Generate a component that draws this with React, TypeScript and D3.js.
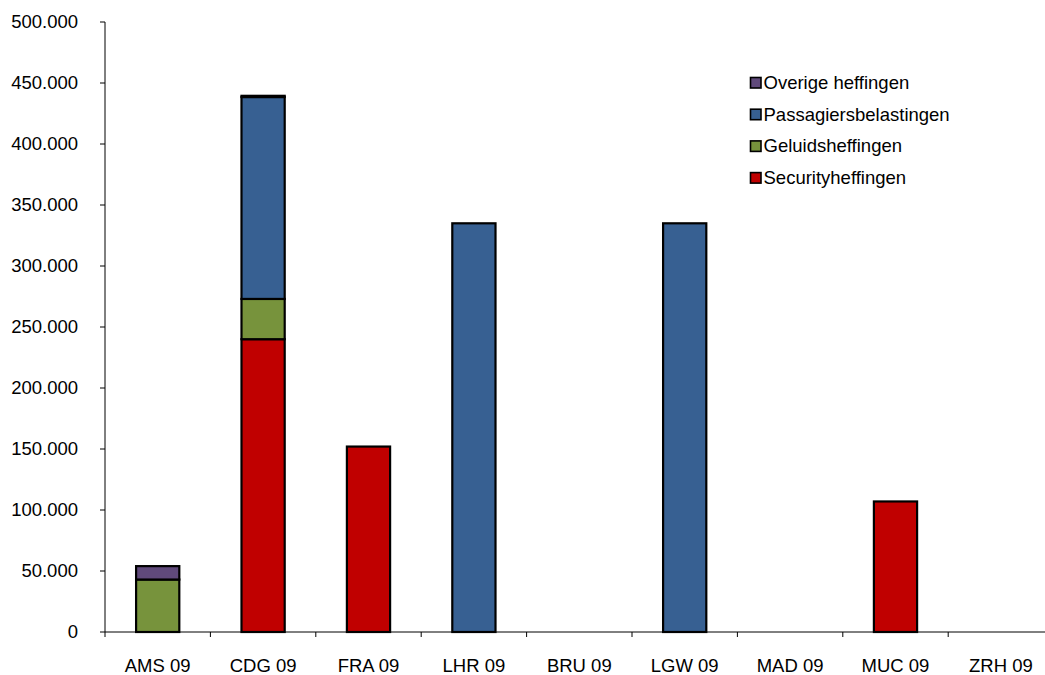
import React from "react";
import * as d3 from "d3";

const categories = ["AMS 09", "CDG 09", "FRA 09", "LHR 09", "BRU 09", "LGW 09", "MAD 09", "MUC 09", "ZRH 09"];
const security = [0, 240000, 152000, 0, 0, 0, 0, 107000, 0];
const geluid = [43000, 33000, 0, 0, 0, 0, 0, 0, 0];
const passagiers = [0, 165500, 0, 335000, 0, 335000, 0, 0, 0];
const overige = [11000, 1000, 0, 0, 0, 0, 0, 0, 0];
const seriesNames = ["Securityheffingen", "Geluidsheffingen", "Passagiersbelastingen", "Overige heffingen"];
const seriesColors = ["#C00000", "#77933C", "#376092", "#604A7B"];
const yTicks = [0, 50000, 100000, 150000, 200000, 250000, 300000, 350000, 400000, 450000, 500000];

const W = 1045, H = 675;
const left = 105, top = 22, bottom = 632;
const band = 105.4;

export default function App() {
  const seriesData = [security, geluid, passagiers, overige];
  const y = d3.scaleLinear().domain([0, 500000]).range([bottom, top]);
  const x = d3.scaleBand().domain(categories).range([left, left + band * categories.length]).paddingInner(0).paddingOuter(0);
  const table = categories.map((c, i) => {
    const o: any = { cat: c };
    seriesNames.forEach((s, k) => (o[s] = seriesData[k][i]));
    return o;
  });
  const stacked = d3.stack().keys(seriesNames)(table);
  const bw = x.bandwidth() * 0.41;
  const fmt = (v: number) => d3.format(",")(v).replace(/,/g, ".");
  const font = "'Liberation Sans', Arial, sans-serif";
  const legendItems = [...seriesNames].reverse();
  const legendColors = [...seriesColors].reverse();
  const fs = 18.5;

  return (
    <svg width={W} height={H} style={{ position: "absolute", left: 0, top: 0, background: "#fff" }} fontFamily={font}>
      {stacked.map((layer, k) =>
        layer.map((d, i) => {
          const v = d[1] - d[0];
          if (v <= 0) return null;
          const cx = (x(categories[i]) as number) + x.bandwidth() / 2;
          return (
            <rect key={`${k}-${i}`} x={cx - bw / 2} y={y(d[1])} width={bw} height={y(d[0]) - y(d[1])}
              fill={seriesColors[k]} stroke="#000" strokeWidth={2.2} />
          );
        })
      )}
      <line x1={left} x2={left} y1={top} y2={bottom} stroke="#000" strokeWidth={1} />
      <line x1={left} x2={W} y1={bottom} y2={bottom} stroke="#000" strokeWidth={1} />
      {yTicks.map((t) => (
        <g key={t}>
          <line x1={left - 5} x2={left} y1={y(t)} y2={y(t)} stroke="#000" />
          <text x={78} y={y(t)} dy="0.35em" textAnchor="end" fontSize={fs} fill="#000">{fmt(t)}</text>
        </g>
      ))}
      {categories.map((c, i) => (
        <g key={c}>
          <line x1={(x(c) as number)} x2={(x(c) as number)} y1={bottom} y2={bottom + 5} stroke="#000" />
          <text x={(x(c) as number) + x.bandwidth() / 2} y={671.5} textAnchor="middle" fontSize={fs} fill="#000">{c}</text>
        </g>
      ))}
      {legendItems.map((s, i) => (
        <g key={s} transform={`translate(750, ${82.5 + i * 31.7})`}>
          <rect x={0.5} y={-5} width={10.5} height={10.5} fill={legendColors[i]} stroke="#000" strokeWidth={1.6} />
          <text x={13.5} y={0} dy="0.35em" fontSize={fs} fill="#000">{s}</text>
        </g>
      ))}
    </svg>
  );
}
